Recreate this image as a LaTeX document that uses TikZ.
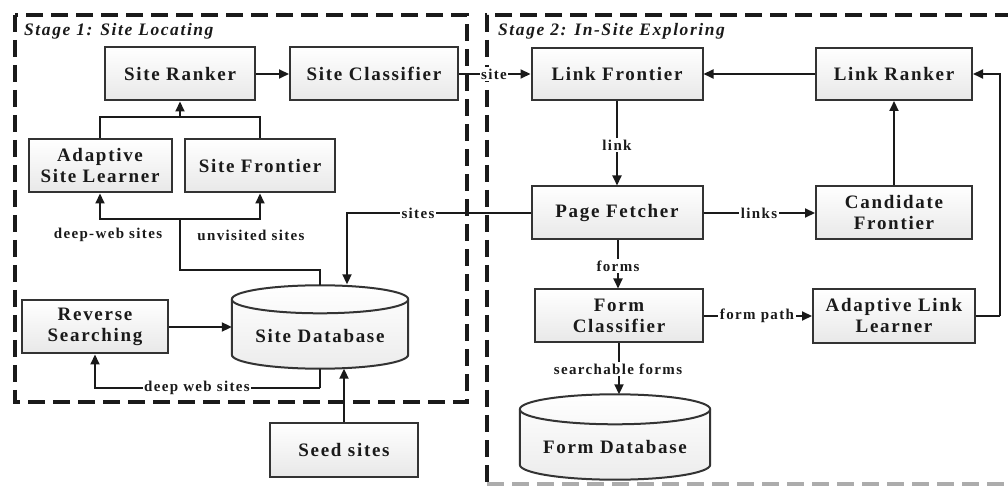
\documentclass[tikz,border=0pt]{standalone}
\usepackage{fontspec}
\setmainfont{Liberation Serif}
\usetikzlibrary{arrows.meta,calc}

\definecolor{edge}{HTML}{333333}
\definecolor{ink}{HTML}{1A1A1A}

\tikzset{
  box/.style={draw=edge, line width=2pt, top color=white, bottom color=gray!18,
    shading angle=0, text=ink, align=center, inner sep=0pt,
    font=\fontsize{19}{21}\selectfont\bfseries\addfontfeatures{LetterSpace=9}},
  dbase/.style={draw=none, inner sep=0pt, text=ink,
    font=\fontsize{19}{21}\selectfont\bfseries\addfontfeatures{LetterSpace=9}},
  conn/.style={draw=ink, line width=2pt},
  arr/.style={conn, -{Triangle[length=10pt,width=9pt]}},
  lbl/.style={fill=white, text=ink, inner sep=1.5pt,
    font=\fontsize{15}{17}\selectfont\bfseries\addfontfeatures{LetterSpace=9}},
  stagebox/.style={draw=ink, line width=3.2pt, dash pattern=on 17pt off 8pt},
  stagetitle/.style={anchor=west, text=ink, inner sep=0pt,
    font=\fontsize{17.5}{19}\selectfont\bfseries\itshape\addfontfeatures{LetterSpace=9}}
}

% cylinder outline drawn around a named node: #1 node, #2 half height of the cap ellipse
\newcommand{\drumshape}[2]{%
  \path let \p1=(#1.north west), \p2=(#1.south east), \n1={(\x2-\x1)/2} in
    [draw=edge, line width=2pt, top color=white, bottom color=gray!15]
    (\x1,\y1-#2pt) -- (\x1,\y2+#2pt) arc[start angle=180, end angle=360,
      x radius=\n1, y radius=#2pt] -- (\x2,\y1-#2pt)
    arc[start angle=0, end angle=180, x radius=\n1, y radius=#2pt];
  \path let \p1=(#1.north west), \p2=(#1.south east), \n1={(\x2-\x1)/2} in
    [draw=edge, line width=2pt]
    (\x1,\y1-#2pt) arc[start angle=180, end angle=360,
      x radius=\n1, y radius=#2pt];
}

\begin{document}
\begin{tikzpicture}[x=1pt,y=1pt]
\useasboundingbox (0,0) rectangle (1008,487);

% stage frames
\draw[stagebox] (15,472) rectangle (467,85);
\draw[stagebox] (1012,472) -- (487,472) -- (487,2);
\draw[stagebox, draw=gray!65] (487,3) -- (1012,3);
\node[stagetitle] (t1) at (24,456) {Stage 1: Site Locating};
\node[stagetitle] (t2) at (498,456) {Stage 2: In-Site Exploring};

% stage 1 components
\node[box, minimum width=150pt, minimum height=53pt] (sr) at (180,413) {Site Ranker};
\node[box, minimum width=168pt, minimum height=53pt] (sc) at (374,413) {Site Classifier};
\node[box, minimum width=143pt, minimum height=53pt] (asl) at (100,321) {Adaptive\\Site Learner};
\node[box, minimum width=150pt, minimum height=53pt] (sf) at (260,321) {Site Frontier};
\node[box, minimum width=146pt, minimum height=53pt] (rs) at (95,160) {Reverse\\Searching};
\node[dbase, minimum width=176pt, minimum height=83pt] (sdb) at (320,160) {};
\drumshape{sdb}{14}
\node[dbase] (sdbt) at (320,151) {Site Database};
\node[box, minimum width=148pt, minimum height=54pt] (seed) at (344,37) {Seed sites};

% stage 2 components
\node[box, minimum width=171pt, minimum height=52pt] (lf) at (617,413) {Link Frontier};
\node[box, minimum width=156pt, minimum height=52pt] (lr) at (894,413) {Link Ranker};
\node[box, minimum width=171pt, minimum height=53pt] (pf) at (617,274) {Page Fetcher};
\node[box, minimum width=156pt, minimum height=53pt] (cf) at (894,274) {Candidate\\Frontier};
\node[box, minimum width=168pt, minimum height=53pt] (fc) at (619,171) {Form\\Classifier};
\node[box, minimum width=162pt, minimum height=54pt] (all) at (894,171) {Adaptive Link\\Learner};
\node[dbase, minimum width=190pt, minimum height=85pt] (fdb) at (615,50) {};
\drumshape{fdb}{15}
\node[dbase] (fdbt) at (615,40) {Form Database};

% junction points
\coordinate (jup) at (180,370);
\coordinate (jdown) at (180,268);
\coordinate (jdb) at (320,217);
\coordinate (jrs) at (320,99);
\coordinate (jall) at (1000,171);

% stage 1 connectors
\draw[arr] (sr) -- (sc);
\draw[conn] (asl.north) |- (jup);
\draw[conn] (sf.north) |- (jup);
\draw[arr] (jup) -- (sr.south);
\draw[conn] (sdb.north) -- (jdb) -| (jdown);
\draw[arr] (jdown) -| (asl.south);
\draw[arr] (jdown) -| (sf.south);
\node[lbl, fill=none] (l1) at (108,252) {deep-web sites};
\node[lbl, fill=none] (l2) at (251,252) {unvisited sites};
\draw[arr] (rs) -- (sdb);
\draw[conn] (sdb.south) -- (jrs);
\draw[arr] (jrs) -| (rs.south);
\node[lbl] (l3) at (197,99) {deep web sites};
\draw[arr] (seed.north) -- (seed.north |- sdb.south);

% cross-stage connectors
\draw[arr] (sc.east) -- (lf.west);
\node[lbl] (l4) at (494,413) {site};
\draw[arr] (pf.west) -| ([xshift=27pt,yshift=1pt]sdb.north);
\node[lbl] (l5) at (418,274) {sites};

% stage 2 connectors
\draw[arr] (lr) -- (lf);
\draw[arr] (lf) -- (pf);
\node[lbl] (l6) at (617,342) {link};
\draw[arr] (pf) -- (cf);
\node[lbl] (l7) at (759,274) {links};
\draw[arr] (cf) -- (lr);
\draw[arr] ([xshift=1pt]pf.south) -- ([xshift=-1pt]fc.north);
\node[lbl] (l8) at (618,221) {forms};
\draw[arr] (fc) -- (all);
\node[lbl] (l9) at (757,171) {form path};
\draw[arr] (fc.south) -- (fc.south |- fdb.north);
\node[lbl] (l10) at (618,118) {searchable forms};
\draw[conn] (all.east) -- (jall);
\draw[arr] (jall) |- (lr.east);
\end{tikzpicture}
\end{document}
